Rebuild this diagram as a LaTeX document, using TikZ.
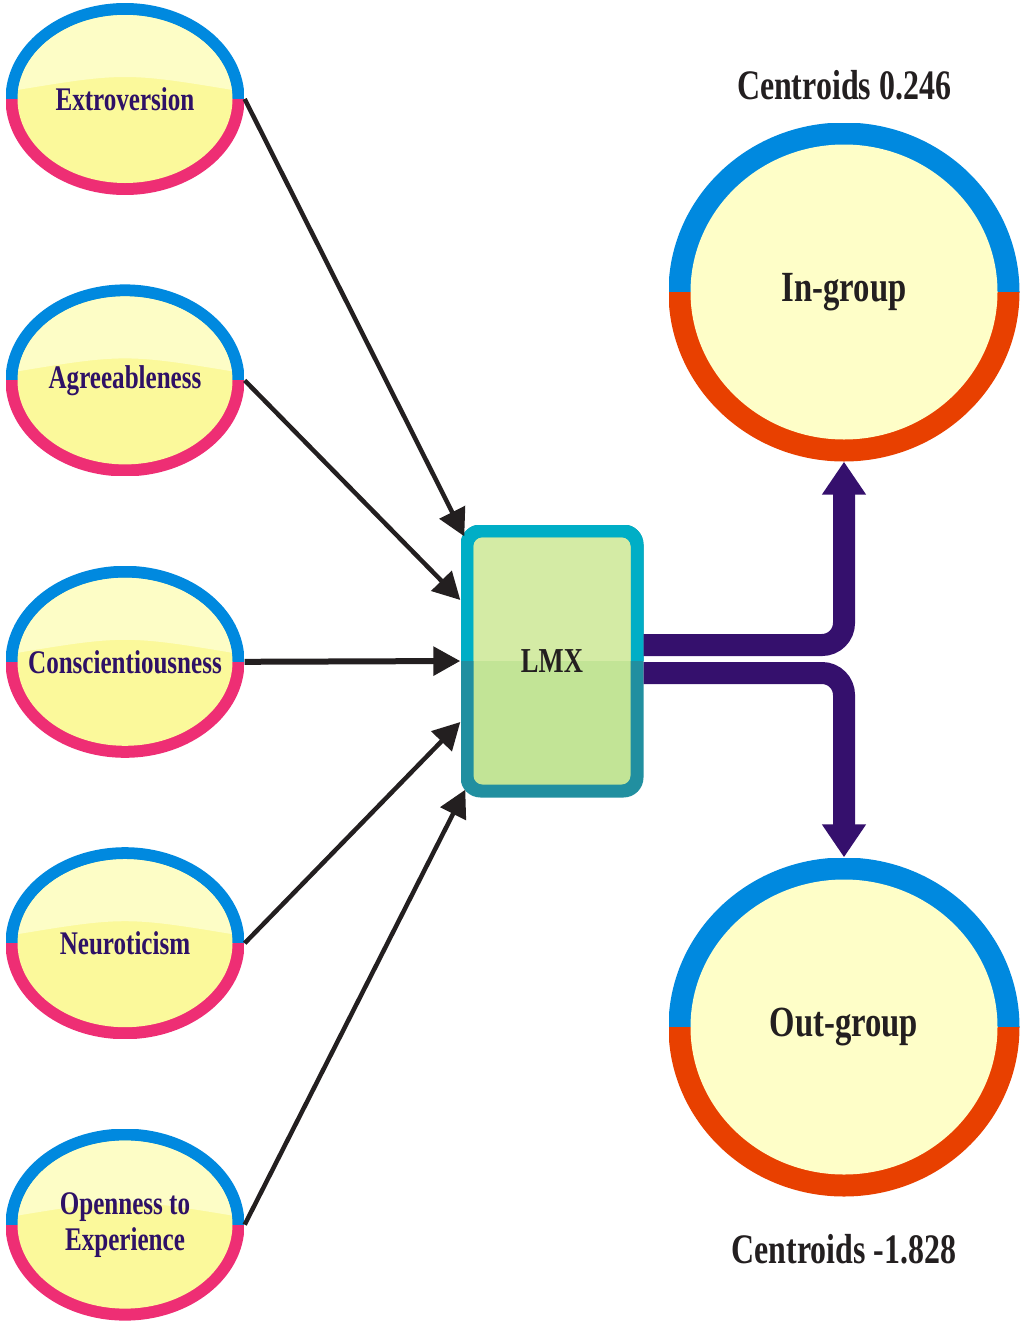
\documentclass[tikz,border=0pt]{standalone}
\usepackage{fontspec}
\newfontfamily\narrowserif{Liberation Serif}[FakeStretch=0.76]
\usepackage{tikz}
\usetikzlibrary{arrows.meta,positioning,calc,shapes.geometric}
\definecolor{ringblue}{RGB}{0,137,223}
\definecolor{ringpink}{RGB}{238,46,116}
\definecolor{ringred}{RGB}{232,64,0}
\definecolor{glosshigh}{RGB}{253,253,198}
\definecolor{glosslow}{RGB}{251,249,155}
\definecolor{groupfill}{RGB}{254,254,200}
\definecolor{lmxtop}{RGB}{0,174,198}
\definecolor{lmxbottom}{RGB}{33,143,160}
\definecolor{lmxhigh}{RGB}{212,235,165}
\definecolor{lmxlow}{RGB}{194,228,150}
\definecolor{flowpurple}{RGB}{53,16,109}
\definecolor{traitink}{RGB}{46,17,102}
\definecolor{inkblack}{RGB}{35,31,32}
\tikzset{link/.style={-{Triangle[length=27pt,width=28pt]},line width=4.5pt,draw=inkblack},
		flow/.style={-{Triangle[length=33pt,width=42pt]},line width=22pt,draw=flowpurple,rounded corners=22pt}}

\begin{document}
\begin{tikzpicture}[x=1pt,y=-1pt,node distance=89pt,
		trait/.style={ellipse,minimum width=239pt,minimum height=192pt,inner sep=0pt,align=center,
			font=\narrowserif\bfseries\fontsize{33}{36}\selectfont,text=traitink,
			path picture={
				\fill[ringpink] (path picture bounding box.south west) rectangle (path picture bounding box.east);
				\fill[ringblue] (path picture bounding box.north west) rectangle (path picture bounding box.east);
				\begin{scope}
					\clip (path picture bounding box.center) ellipse [x radius=107.5pt,y radius=84pt];
					\fill[glosslow] (path picture bounding box.south west) rectangle (path picture bounding box.north east);
					\fill[glosshigh] (path picture bounding box.north west) -- ([yshift=7pt]path picture bounding box.west)
						.. controls ([yshift=27pt]path picture bounding box.center) .. ([yshift=7pt]path picture bounding box.east)
						-- (path picture bounding box.north east) -- cycle;
				\end{scope}}},
		group/.style={ellipse,minimum width=351pt,minimum height=339pt,inner sep=0pt,
			font=\narrowserif\bfseries\fontsize{43}{48}\selectfont,text=inkblack,
			path picture={
				\fill[ringred] (path picture bounding box.south west) rectangle (path picture bounding box.east);
				\fill[ringblue] (path picture bounding box.north west) rectangle (path picture bounding box.east);
				\fill[groupfill] (path picture bounding box.center) ellipse [x radius=153.5pt,y radius=147.5pt];}},
		hub/.style={rectangle,rounded corners=20pt,minimum width=183pt,minimum height=273pt,inner sep=0pt,
			font=\narrowserif\bfseries\fontsize{35}{40}\selectfont,text=inkblack,
			path picture={
				\fill[lmxbottom,sharp corners] (path picture bounding box.south west) rectangle (path picture bounding box.north east);
				\fill[lmxtop,sharp corners] (path picture bounding box.north west) rectangle (path picture bounding box.east);
				\begin{scope}
					\clip[rounded corners=9pt] ([shift={(13pt,13pt)}]path picture bounding box.south west) rectangle ([shift={(-13pt,-13pt)}]path picture bounding box.north east);
					\fill[lmxlow,sharp corners] (path picture bounding box.south west) rectangle (path picture bounding box.north east);
					\fill[lmxhigh,sharp corners] (path picture bounding box.north west) rectangle (path picture bounding box.east);
				\end{scope}}},
		centroid/.style={font=\narrowserif\bfseries\fontsize{42}{48}\selectfont,text=inkblack,inner sep=2pt}]
	\useasboundingbox (0,0) rectangle (1021,1323);
	\node[trait] (extroversion) at (125,99) {Extroversion};
	\node[trait] (agreeableness) [below=of extroversion] {Agreeableness};
	\node[trait] (conscientiousness) [below=of agreeableness] {\makebox[0pt]{Conscientiousness}};
	\node[trait] (neuroticism) [below=of conscientiousness] {Neuroticism};
	\node[trait] (openness) [below=of neuroticism] {Openness to\\Experience};

	\node[hub] (lmx) at (552,661) {LMX};

	\node[group] (in-group) at (844,292) {In-group};
	\node[group] (out-group) at (844,1027) {Out-group};
	\node[centroid] (centroid-in) [above=20pt of in-group] {Centroids 0.246};
	\node[centroid] (centroid-out) [below=35pt of out-group] {Centroids -1.828};

	\draw[link] (extroversion.east) -- ($(lmx.north west)+(4,12)$);
	\draw[link] (agreeableness.east) -- ($(lmx.west)+(0,-61)$);
	\draw[link,line width=6pt] (conscientiousness.east) -- (lmx.west);
	\draw[link] (neuroticism.east) -- ($(lmx.west)+(0,61)$);
	\draw[link] (openness.east) -- ($(lmx.south west)+(5,-8)$);

	\draw[flow] ([yshift=16pt]lmx.east) -| (in-group.south);
	\draw[flow] ([yshift=-12pt]lmx.east) -| (out-group.north);
\end{tikzpicture}
\end{document}
